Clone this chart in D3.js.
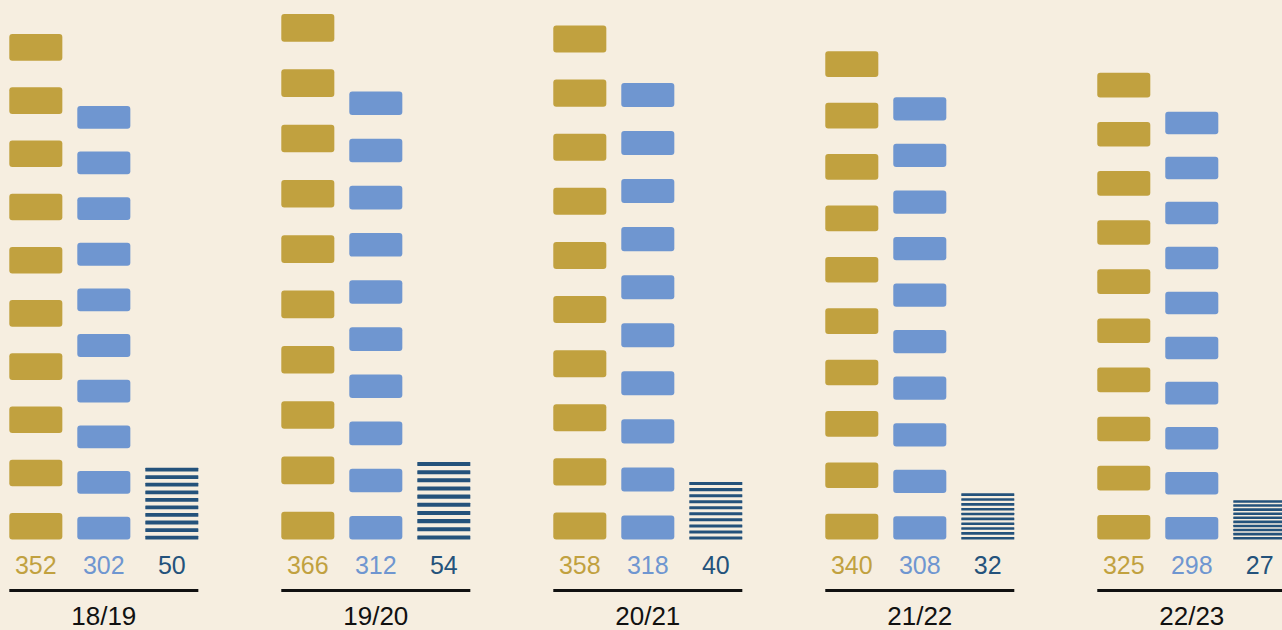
<!DOCTYPE html>
<html>
<head>
<meta charset="utf-8">
<script src="https://cdn.jsdelivr.net/npm/d3@7"></script>
<style>
  html, body { margin: 0; padding: 0; background: #f6eee0; }
  svg { display: block; }
</style>
</head>
<body>
<svg id="chart"></svg>
<script>
const seasons = ["18/19", "19/20", "20/21", "21/22", "22/23"];
const totalValues = [352, 366, 358, 340, 325];
const blueValues = [302, 312, 318, 308, 298];
const darkValues = [50, 54, 40, 32, 27];

const width = 1282;
const height = 630;
const baseline = 539.5;
const segments = 10;

const seriesColors = {
  total: "#c1a13f",
  blue: "#6f96d0",
  dark: "#24527b",
};

const svg = d3
  .select("#chart")
  .attr("width", width)
  .attr("height", height)
  .attr("viewBox", `0 0 ${width} ${height}`);

svg.append("rect").attr("width", width).attr("height", height).attr("fill", "#f6eee0");

// scales
const x = d3.scaleBand().domain(seasons).range([9.3, 1286.3]).paddingInner(0.305);

const xInner = d3
  .scaleBand()
  .domain(["total", "blue", "dark"])
  .range([0, x.bandwidth()])
  .paddingInner(0.22);

const y = d3
  .scaleLinear()
  .domain([0, d3.max(totalValues)])
  .range([baseline, 14]);

const rows = seasons.map((s, i) => ({
  season: s,
  cols: [
    { key: "total", value: totalValues[i] },
    { key: "blue", value: blueValues[i] },
    { key: "dark", value: darkValues[i] },
  ],
}));

const group = svg
  .selectAll("g.season")
  .data(rows)
  .enter()
  .append("g")
  .attr("class", "season")
  .attr("transform", (d) => `translate(${x(d.season)},0)`);

// each column is split into 10 equal pieces
group.each(function (d) {
  const g = d3.select(this);
  d.cols.forEach((c) => {
    const pieces = d3
      .scaleBand()
      .domain(d3.range(segments))
      .range([y(c.value), baseline])
      .paddingInner(0.5)
      .paddingOuter(0);
    const isDark = c.key === "dark";
    const h = isDark ? Math.max(2.6, pieces.bandwidth()) : pieces.bandwidth();
    g.selectAll(null)
      .data(d3.range(segments))
      .enter()
      .append("rect")
      .attr("x", xInner(c.key))
      .attr("width", xInner.bandwidth())
      .attr("y", (k) => pieces(k) + pieces.bandwidth() - h)
      .attr("height", h)
      .attr("rx", isDark ? 0.5 : 3)
      .attr("fill", seriesColors[c.key]);

    g.append("text")
      .attr("x", xInner(c.key) + xInner.bandwidth() / 2)
      .attr("y", 574)
      .attr("text-anchor", "middle")
      .style("font-family", "'Liberation Sans', Arial, sans-serif")
      .style("font-size", "25px")
      .style("fill", seriesColors[c.key])
      .text(c.value);
  });
});

group
  .append("line")
  .attr("x1", 0)
  .attr("x2", x.bandwidth())
  .attr("y1", 590.5)
  .attr("y2", 590.5)
  .attr("stroke", "#111")
  .attr("stroke-width", 3);

group
  .append("text")
  .attr("x", x.bandwidth() / 2)
  .attr("y", 625)
  .attr("text-anchor", "middle")
  .style("font-family", "'Liberation Sans', Arial, sans-serif")
  .style("font-size", "26px")
  .style("fill", "#111")
  .text((d) => d.season);
</script>
</body>
</html>
